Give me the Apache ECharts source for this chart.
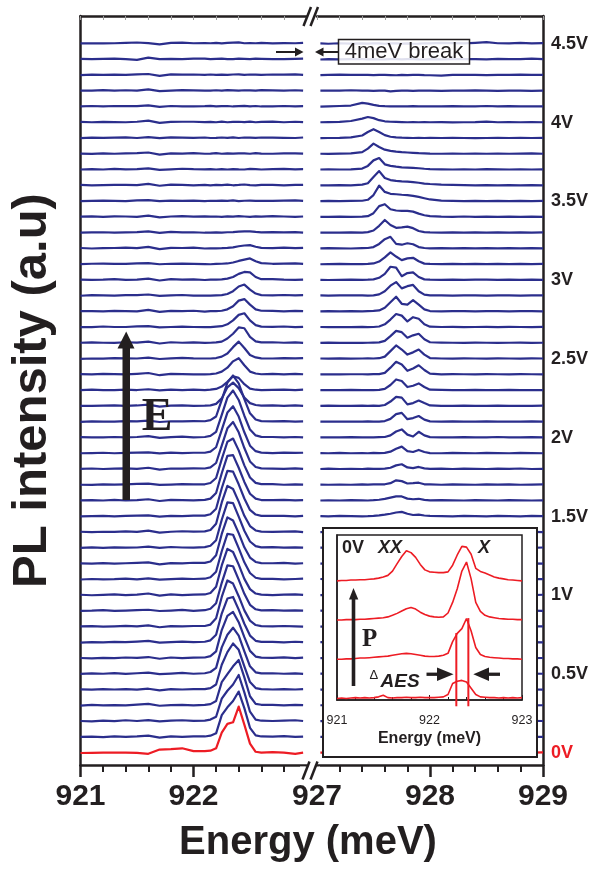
<!DOCTYPE html>
<html>
<head>
<meta charset="utf-8">
<script src="https://cdn.jsdelivr.net/npm/echarts@6/dist/echarts.min.js"></script>
<style>html,body{margin:0;padding:0;background:#fff}#c{width:607px;height:869px}</style>
</head>
<body>
<div id="c"></div>
<script>
// ---------- DATA ----------
const voltages = [0,0.1,0.2,0.3,0.4,0.5,0.6,0.7,0.8,0.9,1,1.1,1.2,1.3,1.4,1.5,1.6,1.7,1.8,1.9,2,2.1,2.2,2.3,2.4,2.5,2.6,2.7,2.8,2.9,3,3.1,3.2,3.3,3.4,3.5,3.6,3.7,3.8,3.9,4,4.1,4.2,4.3,4.4,4.5];
const energyLeft = [921.0,921.1,921.2,921.3,921.4,921.5,921.6,921.7,921.8,921.9,922.0,922.1,922.15,922.2,922.25,922.3,922.35,922.4,922.45,922.5,922.55,922.6,922.7,922.8,922.9,922.97];
const energyRight = [927.03,927.1,927.2,927.3,927.4,927.45,927.5,927.55,927.6,927.65,927.7,927.75,927.8,927.85,927.9,927.95,928.0,928.1,928.2,928.3,928.4,928.5,928.6,928.7,928.8,928.9,929.0];
const leftTicks = [921, 922];
const rightTicks = [927, 928, 929];

const leftSpectra = [
[0.00,0.01,0.02,0.02,0.03,0.01,-0.05,0.22,0.25,0.30,0.12,0.12,0.15,0.30,1.30,1.85,1.95,2.95,1.80,0.60,0.08,0.03,0.06,0.02,-0.05,0.02],
[0.02,0.04,0.01,0.06,0.03,0.05,0.10,-0.02,0.06,0.03,0.05,0.05,0.10,0.25,1.40,1.90,2.30,2.90,1.85,0.60,0.12,0.05,0.04,0.07,0.02,0.04],
[0.03,0.01,0.05,0.02,0.08,0.03,0.09,0.01,0.05,0.08,0.04,0.06,0.12,0.30,1.45,1.95,2.35,2.95,1.85,0.62,0.12,0.05,0.03,0.05,0.08,0.03],
[0.01,0.05,0.02,0.04,0.02,0.07,0.12,0.00,0.04,0.06,0.02,0.05,0.10,0.30,1.50,2.00,2.50,2.90,1.80,0.60,0.12,0.06,0.05,0.02,0.06,0.04],
[0.04,0.02,0.06,0.03,0.05,0.02,0.08,-0.03,0.05,0.03,0.06,0.05,0.12,0.35,1.60,2.40,2.95,2.55,1.50,0.50,0.12,0.05,0.03,0.06,0.03,0.05],
[0.02,0.05,0.03,0.07,0.02,0.06,0.10,0.01,0.04,0.08,0.03,0.06,0.14,0.40,1.70,2.50,2.95,2.45,1.45,0.50,0.12,0.05,0.06,0.03,0.05,0.02],
[0.03,0.01,0.04,0.02,0.06,0.04,0.09,-0.02,0.06,0.02,0.05,0.06,0.15,0.45,1.80,2.70,2.95,2.30,1.35,0.48,0.12,0.05,0.04,0.07,0.02,0.05],
[0.01,0.04,0.02,0.05,0.03,0.07,0.11,0.00,0.03,0.07,0.04,0.06,0.15,0.50,1.85,2.80,2.90,2.10,1.20,0.45,0.12,0.05,0.05,0.02,0.06,0.03],
[0.03,0.05,0.02,0.04,0.07,0.03,0.10,-0.02,0.05,0.03,0.06,0.06,0.15,0.55,1.90,2.95,2.75,1.95,1.05,0.40,0.12,0.05,0.03,0.06,0.04,0.02],
[0.02,0.03,0.06,0.02,0.04,0.06,0.09,0.01,0.04,0.08,0.02,0.06,0.15,0.50,1.80,2.90,2.85,2.00,1.10,0.40,0.12,0.05,0.06,0.03,0.05,0.04],
[0.04,0.01,0.03,0.06,0.02,0.05,0.12,-0.01,0.06,0.02,0.05,0.06,0.15,0.55,1.90,2.95,2.75,1.95,1.05,0.40,0.12,0.05,0.02,0.05,0.07,0.03],
[0.01,0.04,0.02,0.03,0.06,0.02,0.08,0.00,0.03,0.06,0.04,0.06,0.15,0.50,1.80,2.90,2.85,2.00,1.10,0.42,0.12,0.05,0.05,0.02,0.04,0.06],
[0.03,0.02,0.05,0.02,0.04,0.07,0.10,-0.03,0.05,0.03,0.07,0.06,0.15,0.55,1.90,2.95,2.75,1.95,1.05,0.40,0.12,0.05,0.04,0.06,0.02,0.04],
[0.02,0.05,0.01,0.05,0.03,0.04,0.09,0.01,0.07,0.04,0.03,0.06,0.15,0.50,1.80,2.90,2.85,2.00,1.10,0.42,0.13,0.05,0.06,0.03,0.05,0.03],
[0.04,0.02,0.04,0.03,0.06,0.03,0.11,-0.02,0.04,0.07,0.05,0.06,0.15,0.55,1.90,2.95,2.75,1.95,1.05,0.40,0.12,0.05,0.03,0.05,0.06,0.02],
[0.01,0.03,0.05,0.02,0.04,0.06,0.08,0.00,0.05,0.03,0.06,0.06,0.15,0.50,1.80,2.90,2.85,2.05,1.15,0.42,0.13,0.05,0.05,0.04,0.02,0.05],
[0.03,0.04,0.02,0.06,0.02,0.04,0.10,-0.01,0.06,0.05,0.03,0.06,0.14,0.50,1.75,2.85,2.90,2.10,1.20,0.45,0.14,0.05,0.04,0.06,0.03,0.04],
[0.02,0.01,0.04,0.03,0.05,0.07,0.09,0.01,0.03,0.06,0.04,0.05,0.13,0.45,1.65,2.75,2.95,2.20,1.25,0.48,0.14,0.06,0.06,0.02,0.05,0.03],
[0.03,0.05,0.02,0.04,0.06,0.03,0.10,-0.02,0.05,0.04,0.06,0.05,0.12,0.40,1.50,2.60,3.00,2.35,1.35,0.50,0.15,0.06,0.04,0.03,0.06,0.03],
[0.02,0.03,0.05,0.02,0.04,0.06,0.08,0.01,0.06,0.03,0.05,0.05,0.12,0.40,1.50,2.60,3.00,2.35,1.35,0.50,0.15,0.06,0.03,0.06,0.04,0.05],
[0.04,0.02,0.03,0.05,0.02,0.05,0.11,-0.01,0.04,0.07,0.03,0.05,0.12,0.38,1.45,2.55,3.00,2.40,1.40,0.52,0.15,0.06,0.05,0.03,0.05,0.02],
[0.01,0.04,0.03,0.03,0.06,0.04,0.09,0.00,0.05,0.04,0.06,0.05,0.12,0.35,1.40,2.50,2.95,2.45,1.45,0.55,0.16,0.06,0.04,0.06,0.03,0.04],
[0.03,0.02,0.04,0.06,0.03,0.05,0.10,-0.02,0.04,0.06,0.03,0.04,0.06,0.15,0.50,1.20,1.50,1.15,0.55,0.20,0.08,0.04,0.05,0.03,0.06,0.03],
[0.02,0.05,0.03,0.02,0.05,0.03,0.08,0.01,0.06,0.03,0.05,0.03,0.05,0.10,0.25,0.55,0.90,0.80,0.40,0.12,0.05,0.03,0.04,0.06,0.03,0.05],
[0.04,0.02,0.05,0.04,0.02,0.06,0.11,-0.03,0.05,0.04,0.02,0.02,0.04,0.08,0.20,0.45,0.85,1.05,0.60,0.20,0.08,0.03,0.05,0.02,0.06,0.03],
[0.01,0.03,0.02,0.05,0.04,0.03,0.09,0.00,0.04,0.07,0.04,0.03,0.03,0.06,0.15,0.35,0.75,1.10,0.70,0.25,0.10,0.04,0.03,0.05,0.04,0.06],
[0.03,0.05,0.03,0.02,0.06,0.04,0.10,-0.02,0.06,0.03,0.05,0.02,0.03,0.05,0.10,0.30,0.60,1.00,0.95,0.40,0.12,0.05,0.06,0.03,0.05,0.02],
[0.02,0.02,0.06,0.03,0.03,0.07,0.08,0.01,0.03,0.05,0.03,0.02,0.02,0.05,0.08,0.20,0.45,0.80,0.90,0.45,0.15,0.05,0.04,0.06,0.02,0.04],
[0.04,0.03,0.02,0.05,0.04,0.02,0.12,-0.01,0.05,0.04,0.06,0.01,0.03,0.04,0.06,0.15,0.35,0.70,0.80,0.45,0.15,0.06,0.05,0.02,0.05,0.03],
[0.01,0.05,0.04,0.02,0.05,0.05,0.09,0.00,0.04,0.06,0.02,0.02,0.02,0.04,0.05,0.12,0.30,0.60,0.72,0.40,0.15,0.05,0.03,0.06,0.04,0.05],
[0.03,0.02,0.03,0.06,0.02,0.04,0.10,-0.02,0.07,0.03,0.05,0.01,0.03,0.03,0.05,0.10,0.20,0.40,0.52,0.50,0.20,0.06,0.06,0.03,0.02,0.04],
[0.02,0.04,0.05,0.03,0.04,0.06,0.08,0.01,0.04,0.05,0.03,0.02,0.01,0.03,0.04,0.06,0.12,0.22,0.30,0.38,0.20,0.08,0.04,0.05,0.06,0.03],
[0.04,0.01,0.03,0.04,0.06,0.03,0.11,-0.03,0.05,0.04,0.06,0.01,0.02,0.02,0.03,0.05,0.08,0.15,0.20,0.22,0.12,0.05,0.03,0.06,0.03,0.05],
[0.02,0.03,0.04,0.02,0.03,0.05,0.09,0.00,0.06,0.03,0.04,0.01,0.02,0.03,0.02,0.04,0.05,0.08,0.10,0.10,0.06,0.03,0.05,0.03,0.05,0.02],
[0.03,0.05,0.02,0.05,0.04,0.02,0.10,-0.02,0.04,0.06,0.03,0.05,0.03,0.04,0.02,0.05,0.03,0.06,0.04,0.02,0.05,0.03,0.06,0.04,0.02,0.04],
[0.01,0.03,0.05,0.03,0.02,0.06,0.08,0.01,0.05,0.03,0.05,0.02,0.04,0.03,0.05,0.03,0.06,0.02,0.04,0.05,0.03,0.04,0.03,0.05,0.06,0.03],
[0.04,0.02,0.03,0.04,0.05,0.03,0.11,-0.01,0.06,0.04,0.02,0.04,0.02,0.05,0.03,0.06,0.02,0.04,0.07,0.03,0.02,0.05,0.04,0.02,0.04,0.05],
[0.02,0.04,0.02,0.06,0.03,0.05,0.09,0.00,0.03,0.07,0.04,0.03,0.05,0.02,0.04,0.02,0.05,0.03,0.02,0.06,0.04,0.02,0.05,0.06,0.03,0.04],
[0.03,0.01,0.05,0.02,0.04,0.06,0.10,-0.03,0.05,0.03,0.06,0.02,0.03,0.06,0.02,0.04,0.03,0.05,0.04,0.02,0.06,0.03,0.02,0.04,0.05,0.03],
[0.01,0.04,0.03,0.04,0.06,0.02,0.08,0.01,0.06,0.04,0.03,0.05,0.02,0.03,0.05,0.03,0.06,0.02,0.05,0.04,0.03,0.05,0.04,0.03,0.02,0.05],
[0.04,0.02,0.04,0.03,0.02,0.05,0.12,-0.02,0.04,0.05,0.05,0.03,0.04,0.02,0.06,0.02,0.04,0.05,0.03,0.06,0.02,0.04,0.06,0.02,0.05,0.03],
[0.02,0.05,0.02,0.05,0.04,0.04,0.09,0.00,0.05,0.03,0.02,0.04,0.06,0.03,0.04,0.05,0.02,0.04,0.06,0.03,0.05,0.02,0.03,0.05,0.03,0.04],
[0.03,0.03,0.06,0.02,0.05,0.03,0.10,-0.01,0.03,0.06,0.04,0.02,0.03,0.05,0.03,0.06,0.04,0.02,0.05,0.04,0.03,0.06,0.04,0.03,0.05,0.02],
[0.01,0.04,0.03,0.04,0.03,0.06,0.08,-0.04,0.06,0.04,0.05,0.03,0.05,0.02,0.04,0.03,0.05,0.06,0.02,0.05,0.04,0.03,0.05,0.04,0.06,0.03],
[0.04,0.02,0.04,0.06,0.02,-0.02,0.12,0.02,0.04,0.03,0.06,0.05,0.02,0.04,0.06,0.02,0.03,0.05,0.04,0.02,0.05,0.04,0.03,0.02,0.04,0.05],
[0.02,0.03,0.02,0.03,0.05,0.08,0.04,-0.04,0.06,0.07,0.03,0.04,0.03,0.05,0.02,0.05,0.07,0.09,0.03,0.04,0.03,0.05,0.02,0.04,0.03,0.05]
];

const rightSpectra = [
[0.02,0.03,0.01,0.03,0.02,0.03,0.02,0.04,0.05,0.06,0.08,0.10,0.07,0.05,0.06,0.04,0.03,0.02,0.03,0.02,0.04,0.02,0.03,0.05,0.02,0.03,0.04],
[0.03,0.02,0.04,0.02,0.03,0.02,0.04,0.05,0.06,0.08,0.10,0.11,0.08,0.06,0.07,0.04,0.03,0.04,0.02,0.03,0.02,0.04,0.03,0.02,0.04,0.03,0.02],
[0.02,0.04,0.02,0.03,0.02,0.04,0.03,0.04,0.06,0.09,0.12,0.12,0.08,0.07,0.08,0.05,0.03,0.02,0.04,0.03,0.03,0.02,0.04,0.03,0.02,0.04,0.03],
[0.03,0.02,0.03,0.04,0.02,0.03,0.04,0.05,0.07,0.10,0.13,0.12,0.09,0.07,0.08,0.05,0.04,0.03,0.02,0.04,0.02,0.03,0.02,0.04,0.03,0.02,0.03],
[0.02,0.03,0.02,0.02,0.04,0.03,0.03,0.05,0.07,0.10,0.14,0.13,0.09,0.08,0.09,0.05,0.03,0.04,0.03,0.02,0.04,0.03,0.03,0.02,0.04,0.03,0.02],
[0.04,0.02,0.03,0.03,0.02,0.04,0.04,0.06,0.08,0.11,0.15,0.14,0.10,0.08,0.10,0.06,0.04,0.02,0.03,0.04,0.02,0.03,0.04,0.02,0.03,0.04,0.03],
[0.02,0.03,0.04,0.02,0.03,0.03,0.05,0.06,0.08,0.12,0.16,0.15,0.10,0.09,0.10,0.06,0.03,0.04,0.02,0.03,0.03,0.04,0.02,0.03,0.04,0.02,0.03],
[0.03,0.02,0.02,0.03,0.04,0.02,0.04,0.06,0.09,0.13,0.18,0.16,0.11,0.09,0.11,0.06,0.04,0.03,0.03,0.02,0.04,0.02,0.03,0.04,0.02,0.03,0.02],
[0.02,0.04,0.03,0.02,0.03,0.04,0.05,0.07,0.09,0.14,0.19,0.18,0.11,0.10,0.12,0.07,0.04,0.02,0.04,0.03,0.02,0.03,0.04,0.03,0.02,0.04,0.03],
[0.03,0.02,0.03,0.04,0.02,0.03,0.05,0.07,0.10,0.15,0.20,0.19,0.12,0.10,0.12,0.07,0.03,0.04,0.02,0.04,0.03,0.02,0.03,0.02,0.04,0.03,0.02],
[0.02,0.03,0.02,0.03,0.04,0.03,0.04,0.08,0.10,0.16,0.22,0.20,0.12,0.11,0.13,0.07,0.04,0.03,0.03,0.02,0.04,0.03,0.02,0.04,0.03,0.02,0.04],
[0.04,0.02,0.04,0.02,0.03,0.04,0.05,0.08,0.11,0.17,0.23,0.21,0.13,0.11,0.13,0.08,0.04,0.02,0.04,0.03,0.02,0.04,0.03,0.02,0.03,0.04,0.03],
[0.02,0.03,0.03,0.04,0.02,0.03,0.05,0.08,0.12,0.18,0.25,0.22,0.13,0.12,0.14,0.08,0.03,0.04,0.02,0.04,0.03,0.02,0.04,0.03,0.02,0.03,0.02],
[0.03,0.02,0.02,0.03,0.04,0.02,0.06,0.09,0.12,0.19,0.26,0.24,0.14,0.12,0.15,0.08,0.04,0.03,0.03,0.02,0.04,0.03,0.02,0.04,0.03,0.02,0.04],
[0.02,0.04,0.03,0.02,0.03,0.04,0.05,0.09,0.13,0.20,0.27,0.25,0.14,0.13,0.15,0.09,0.04,0.02,0.04,0.03,0.02,0.04,0.03,0.02,0.04,0.03,0.02],
[0.03,0.02,0.04,0.03,0.02,0.03,0.05,0.08,0.12,0.18,0.26,0.30,0.18,0.10,0.12,0.07,0.04,0.03,0.02,0.04,0.03,0.02,0.04,0.03,0.02,0.04,0.03],
[0.02,0.03,0.02,0.04,0.03,0.02,0.04,0.07,0.12,0.20,0.28,0.28,0.14,0.10,0.13,0.06,0.03,0.04,0.03,0.02,0.04,0.03,0.02,0.04,0.03,0.02,0.03],
[0.03,0.02,0.03,0.02,0.04,0.03,0.04,0.05,0.05,0.12,0.30,0.25,0.10,0.12,0.15,0.05,0.04,0.02,0.04,0.03,0.02,0.04,0.03,0.05,0.02,0.03,0.04],
[0.02,0.04,0.02,0.03,0.02,0.04,0.03,0.03,0.04,0.10,0.25,0.32,0.12,0.08,0.15,0.06,0.03,0.04,0.02,0.04,0.03,0.02,0.04,0.03,0.05,0.02,0.03],
[0.03,0.02,0.04,0.02,0.03,0.02,0.04,0.03,0.04,0.12,0.30,0.44,0.15,0.10,0.23,0.10,0.03,0.02,0.04,0.03,0.02,0.04,0.03,0.02,0.04,0.03,0.02],
[0.02,0.03,0.02,0.04,0.03,0.03,0.02,0.04,0.05,0.15,0.40,0.53,0.20,0.08,0.38,0.15,0.04,0.03,0.02,0.04,0.03,0.02,0.05,0.03,0.02,0.04,0.03],
[0.03,0.02,0.03,0.03,0.02,0.04,0.03,0.03,0.06,0.20,0.50,0.58,0.18,0.25,0.38,0.15,0.04,0.02,0.04,0.03,0.02,0.04,0.03,0.02,0.03,0.04,0.02],
[0.02,0.04,0.02,0.02,0.04,0.02,0.04,0.03,0.08,0.30,0.60,0.55,0.12,0.20,0.36,0.20,0.05,0.03,0.02,0.04,0.03,0.02,0.04,0.03,0.02,0.03,0.04],
[0.03,0.02,0.03,0.04,0.02,0.03,0.03,0.04,0.10,0.35,0.70,0.60,0.22,0.30,0.45,0.22,0.05,0.04,0.03,0.02,0.04,0.03,0.02,0.04,0.03,0.02,0.03],
[0.02,0.03,0.02,0.03,0.03,0.02,0.04,0.04,0.12,0.45,0.82,0.65,0.25,0.40,0.60,0.30,0.07,0.02,0.04,0.03,0.02,0.04,0.03,0.02,0.04,0.03,0.02],
[0.03,0.02,0.04,0.02,0.03,0.04,0.03,0.05,0.15,0.50,0.86,0.60,0.28,0.42,0.60,0.28,0.06,0.03,0.02,0.04,0.03,0.02,0.04,0.03,0.02,0.04,0.03],
[0.02,0.04,0.02,0.03,0.02,0.03,0.04,0.05,0.15,0.45,0.78,0.70,0.35,0.50,0.60,0.25,0.06,0.04,0.03,0.02,0.04,0.03,0.02,0.03,0.04,0.02,0.03],
[0.03,0.02,0.03,0.02,0.04,0.02,0.03,0.06,0.20,0.50,0.85,0.75,0.38,0.65,0.55,0.20,0.05,0.03,0.04,0.02,0.03,0.04,0.02,0.04,0.03,0.02,0.04],
[0.02,0.03,0.02,0.04,0.02,0.04,0.05,0.08,0.25,0.60,0.95,0.50,0.45,0.74,0.45,0.15,0.04,0.02,0.03,0.04,0.02,0.03,0.04,0.02,0.03,0.04,0.02],
[0.03,0.02,0.04,0.03,0.03,0.02,0.04,0.10,0.30,0.65,0.88,0.48,0.62,0.70,0.30,0.08,0.03,0.04,0.02,0.03,0.04,0.02,0.03,0.04,0.02,0.03,0.03],
[0.02,0.01,0.02,0.03,0.02,0.03,0.05,0.15,0.40,0.85,0.80,0.25,0.45,0.50,0.20,0.05,0.03,0.02,0.04,0.02,0.03,0.04,0.02,0.03,0.02,0.04,0.02],
[0.01,0.02,0.03,0.02,0.02,0.03,0.06,0.18,0.45,0.76,0.50,0.27,0.38,0.42,0.20,0.05,0.03,0.02,0.03,0.02,0.03,0.02,0.03,0.02,0.03,0.02,0.03],
[0.02,0.03,0.02,0.01,0.03,0.04,0.10,0.30,0.60,0.75,0.30,0.25,0.34,0.28,0.10,0.04,0.02,0.03,0.02,0.03,0.02,0.03,0.02,0.03,0.02,0.03,0.02],
[0.02,0.01,0.02,0.03,0.02,0.05,0.15,0.45,0.82,0.50,0.32,0.35,0.40,0.30,0.12,0.05,0.03,0.02,0.03,0.02,0.03,0.02,0.03,0.02,0.03,0.02,0.03],
[0.01,0.02,0.03,0.02,0.03,0.06,0.25,0.70,0.82,0.50,0.42,0.40,0.40,0.35,0.22,0.12,0.06,0.03,0.02,0.04,0.02,0.03,0.02,0.03,0.02,0.03,0.02],
[0.02,0.03,0.02,0.03,0.04,0.10,0.40,1.00,0.60,0.48,0.45,0.42,0.40,0.35,0.28,0.20,0.12,0.05,0.03,0.02,0.03,0.02,0.03,0.02,0.03,0.02,0.03],
[0.01,0.02,0.03,0.02,0.06,0.15,0.55,0.92,0.48,0.35,0.30,0.27,0.25,0.22,0.18,0.13,0.10,0.06,0.04,0.03,0.02,0.03,0.02,0.03,0.02,0.03,0.02],
[0.02,0.03,0.02,0.03,0.08,0.25,0.60,0.75,0.35,0.25,0.20,0.16,0.14,0.12,0.10,0.07,0.05,0.03,0.02,0.03,0.02,0.04,0.03,0.02,0.03,0.02,0.03],
[0.02,0.01,0.03,0.04,0.12,0.35,0.66,0.45,0.28,0.20,0.15,0.12,0.10,0.08,0.06,0.05,0.03,0.02,0.03,0.02,0.03,0.02,0.03,0.02,0.03,0.04,0.02],
[0.01,0.02,0.03,0.06,0.18,0.40,0.58,0.40,0.20,0.10,0.06,0.04,0.03,0.02,0.03,0.02,0.03,0.02,0.03,0.02,0.01,0.02,0.03,0.02,0.03,0.02,0.03],
[0.02,0.03,0.04,0.10,0.25,0.35,0.28,0.15,0.08,0.05,0.04,0.03,0.02,0.03,0.02,0.03,0.02,0.03,0.01,0.02,0.03,0.06,0.02,0.03,0.02,0.03,0.02],
[0.01,0.03,0.05,0.08,0.25,0.20,0.12,0.06,0.04,0.03,0.02,0.03,0.02,0.04,0.03,0.02,0.03,0.02,0.04,0.03,0.02,0.05,0.03,0.04,0.02,0.03,0.02],
[0.02,0.02,0.03,0.05,0.03,0.02,0.01,0.02,0.03,-0.02,0.01,0.02,0.03,0.01,0.02,0.02,0.03,0.01,0.02,0.03,0.04,0.02,0.01,0.03,0.02,0.01,0.02],
[0.01,0.03,0.04,0.02,0.03,0.02,0.01,0.03,0.02,0.01,0.00,0.02,0.01,0.02,0.03,0.01,0.00,-0.02,0.02,0.03,0.02,0.01,0.02,0.03,0.04,0.02,0.03],
[0.00,0.02,0.01,0.03,0.02,0.01,0.02,0.00,0.01,0.03,0.02,0.01,0.02,0.03,0.01,0.00,0.02,0.01,0.03,0.02,0.03,0.01,0.04,0.02,0.03,0.06,0.02],
[0.02,0.00,0.03,0.01,0.02,0.01,0.03,0.02,0.00,0.02,0.03,0.01,0.02,0.00,0.01,0.03,0.02,0.05,0.04,0.02,0.06,0.10,0.03,0.02,0.05,0.02,0.04]
];

// inset
const insetEnergy = [921.00,921.05,921.10,921.15,921.20,921.25,921.30,921.35,921.40,921.45,921.50,921.55,921.60,921.65,921.70,921.75,921.80,921.85,921.90,921.95,922.00,922.05,922.10,922.15,922.20,922.25,922.30,922.35,922.40,922.45,922.50,922.55,922.60,922.65,922.70,922.75,922.80,922.85,922.90,922.95,923.00];
const insetSpectra = [
[0.00,0.01,0.00,0.01,0.02,0.01,0.02,0.01,0.02,0.04,0.08,0.02,0.01,0.02,0.02,0.03,0.02,0.02,0.03,0.02,0.02,0.02,0.03,0.04,0.10,0.38,0.44,0.46,0.42,0.26,0.10,0.04,0.03,0.02,0.02,0.01,0.02,0.01,0.02,0.01,0.02],
[0.00,0.00,0.01,0.01,0.02,0.03,0.03,0.04,0.05,0.06,0.07,0.08,0.10,0.12,0.14,0.15,0.14,0.12,0.10,0.08,0.07,0.07,0.08,0.10,0.15,0.45,0.66,0.78,1.04,0.72,0.30,0.12,0.07,0.05,0.04,0.03,0.02,0.02,0.01,0.01,0.00],
[0.00,0.00,0.01,0.01,0.01,0.02,0.02,0.03,0.04,0.05,0.06,0.08,0.12,0.17,0.23,0.29,0.32,0.28,0.20,0.14,0.10,0.08,0.07,0.08,0.18,0.45,0.80,1.25,1.48,1.05,0.45,0.22,0.12,0.08,0.06,0.04,0.03,0.02,0.02,0.01,0.01],
[0.00,0.01,0.01,0.02,0.02,0.03,0.03,0.04,0.05,0.07,0.10,0.14,0.25,0.44,0.62,0.77,0.72,0.60,0.42,0.28,0.23,0.22,0.21,0.21,0.23,0.40,0.66,0.88,0.86,0.68,0.32,0.24,0.20,0.15,0.10,0.07,0.05,0.03,0.02,0.01,0.00]
];
const insetTicks = [921, 922, 923];
const aesEnergy = [922.29, 922.42];
const aesTop = [1.67, 2.05];
const aesBottom = -0.2;

// ---------- CHART ----------
const FONT = '"Liberation Sans", Arial, Helvetica, sans-serif';
const SERIF = '"Liberation Serif", "Times New Roman", serif';
const INK = '#231f20', BLUE = '#2b2e8c', RED = '#ed1c24';
const Y_MIN = -0.76, Y_MAX = 46.76;

const chart = echarts.init(document.getElementById('c'), null, {renderer: 'canvas'});

function mainBottomAxis(gridIndex, min, max, showMin, showMax) {
  return {
    gridIndex, type: 'value', position: 'bottom', min, max, interval: 1,
    axisLine: {show: true, onZero: false, lineStyle: {color: INK, width: 2.5}},
    axisTick: {show: true, inside: false, length: 12, lineStyle: {color: INK, width: 2.5}},
    minorTick: {show: true, splitNumber: 5, length: 7, lineStyle: {color: INK, width: 2}},
    axisLabel: {show: true, margin: 17, fontSize: 30, fontWeight: 'bold', color: INK, fontFamily: FONT,
      showMinLabel: showMin, showMaxLabel: showMax},
    splitLine: {show: false}, minorSplitLine: {show: false}
  };
}
function mainTopAxis(gridIndex, min, max) {
  return {
    gridIndex, type: 'value', position: 'top', min, max, interval: 0.2,
    axisLine: {show: true, onZero: false, lineStyle: {color: INK, width: 2.5}},
    axisTick: {show: true, inside: true, length: 4, lineStyle: {color: '#9a9a9a', width: 1}},
    axisLabel: {show: false}, splitLine: {show: false}
  };
}

const series = [];
leftSpectra.forEach((vals, i) => {
  series.push({
    type: 'line', xAxisIndex: 0, yAxisIndex: 0, silent: true,
    symbol: 'none', showSymbol: false, z: i === 0 ? 3 : 2,
    lineStyle: {width: 2.2, color: i === 0 ? RED : BLUE, join: 'round'},
    itemStyle: {color: i === 0 ? RED : BLUE},
    data: energyLeft.map((e, j) => [e, i + vals[j]])
  });
});
rightSpectra.forEach((vals, i) => {
  series.push({
    type: 'line', xAxisIndex: 2, yAxisIndex: 1, silent: true,
    symbol: 'none', showSymbol: false, z: i === 0 ? 3 : 2,
    lineStyle: {width: 2.2, color: i === 0 ? RED : BLUE, join: 'round'},
    itemStyle: {color: i === 0 ? RED : BLUE},
    data: energyRight.map((e, j) => [e, i + vals[j]])
  });
});
insetSpectra.forEach((vals, i) => {
  series.push({
    type: 'line', xAxisIndex: 4, yAxisIndex: 2, silent: true,
    symbol: 'none', showSymbol: false, z: 13,
    lineStyle: {width: 1.6, color: RED},
    data: insetEnergy.map((e, j) => [e, i + vals[j]])
  });
});
aesEnergy.forEach((e, k) => {
  series.push({
    type: 'line', xAxisIndex: 4, yAxisIndex: 2, silent: true, clip: false,
    symbol: 'none', showSymbol: false, z: 13,
    lineStyle: {width: 2, color: RED},
    data: [[e, aesBottom], [e, aesTop[k]]]
  });
});

const labelIdx = voltages.map((v, i) => i).filter(i => i % 5 === 0);

const G = [];
// break marks
G.push({type: 'rect', z: 20, shape: {x: 300, y: 766.5, width: 20, height: 15}, style: {fill: '#fff'}});
G.push({type: 'line', z: 21, shape: {x1: 302.5, y1: 779.5, x2: 309.5, y2: 761.5}, style: {stroke: INK, lineWidth: 2.5}});
G.push({type: 'line', z: 21, shape: {x1: 310.5, y1: 779.5, x2: 317.5, y2: 761.5}, style: {stroke: INK, lineWidth: 2.5}});
G.push({type: 'line', z: 21, shape: {x1: 303.5, y1: 26, x2: 311, y2: 7}, style: {stroke: INK, lineWidth: 2.5}});
G.push({type: 'line', z: 21, shape: {x1: 310.5, y1: 26, x2: 318, y2: 7}, style: {stroke: INK, lineWidth: 2.5}});
// 4meV break box and arrows
G.push({type: 'rect', z: 10, shape: {x: 338.5, y: 39.5, width: 131, height: 24.5}, style: {fill: 'rgba(255,255,255,0.85)', stroke: INK, lineWidth: 1.5}});
G.push({type: 'text', z: 11, x: 404, y: 52, style: {text: '4meV break', font: '22px ' + FONT, fill: INK, align: 'center', verticalAlign: 'middle'}});
G.push({type: 'line', z: 11, shape: {x1: 276, y1: 52, x2: 297, y2: 52}, style: {stroke: INK, lineWidth: 2}});
G.push({type: 'polygon', z: 11, shape: {points: [[295, 47.5], [295, 56.5], [303.5, 52]]}, style: {fill: INK}});
G.push({type: 'line', z: 11, shape: {x1: 322, y1: 52, x2: 338, y2: 52}, style: {stroke: INK, lineWidth: 2}});
G.push({type: 'polygon', z: 11, shape: {points: [[323.5, 47.5], [323.5, 56.5], [315, 52]]}, style: {fill: INK}});
// E arrow
G.push({type: 'rect', z: 10, shape: {x: 122.5, y: 346, width: 7.5, height: 154}, style: {fill: INK}});
G.push({type: 'polygon', z: 10, shape: {points: [[117.5, 348.5], [134.5, 348.5], [126.2, 331.5]]}, style: {fill: INK}});
G.push({type: 'text', z: 10, x: 157, y: 418, style: {text: 'E', font: 'bold 46px ' + SERIF, fill: INK, align: 'center', verticalAlign: 'middle'}});
// x axis title
G.push({type: 'text', z: 10, x: 308, y: 843, style: {text: 'Energy (meV)', font: 'bold 40px ' + FONT, fill: INK, align: 'center', verticalAlign: 'middle'}});
// inset box
G.push({type: 'rect', z: 10, shape: {x: 323, y: 528, width: 214, height: 229}, style: {fill: '#fff', stroke: INK, lineWidth: 2}});
// inset annotations
G.push({type: 'text', z: 15, x: 342, y: 548.5, style: {text: '0V', font: 'bold 18px ' + FONT, fill: INK, align: 'left', verticalAlign: 'middle'}});
G.push({type: 'text', z: 15, x: 378, y: 548.5, style: {text: 'XX', font: 'italic bold 18px ' + FONT, fill: INK, align: 'left', verticalAlign: 'middle'}});
G.push({type: 'text', z: 15, x: 478, y: 548.5, style: {text: 'X', font: 'italic bold 18px ' + FONT, fill: INK, align: 'left', verticalAlign: 'middle'}});
G.push({type: 'rect', z: 15, shape: {x: 351.7, y: 597, width: 3.6, height: 89}, style: {fill: INK}});
G.push({type: 'polygon', z: 15, shape: {points: [[349, 599.5], [358.3, 599.5], [353.5, 588]]}, style: {fill: INK}});
G.push({type: 'text', z: 15, x: 362, y: 640, style: {text: 'P', font: 'bold 25px ' + SERIF, fill: INK, align: 'left', verticalAlign: 'middle'}});
G.push({type: 'text', z: 15, x: 369.5, y: 675, style: {text: 'Δ', font: '13px ' + FONT, fill: INK, align: 'left', verticalAlign: 'middle'}});
G.push({type: 'text', z: 15, x: 380.5, y: 682, style: {text: 'AES', font: 'italic bold 19px ' + FONT, fill: INK, align: 'left', verticalAlign: 'middle'}});
G.push({type: 'rect', z: 15, shape: {x: 426.5, y: 672.6, width: 12, height: 3.3}, style: {fill: INK}});
G.push({type: 'polygon', z: 15, shape: {points: [[437, 667.5], [437, 681], [453.5, 674.3]]}, style: {fill: INK}});
G.push({type: 'rect', z: 15, shape: {x: 487.5, y: 672.6, width: 12.5, height: 3.3}, style: {fill: INK}});
G.push({type: 'polygon', z: 15, shape: {points: [[489, 667.5], [489, 681], [473.3, 674.3]]}, style: {fill: INK}});

const option = {
  animation: false,
  backgroundColor: '#fff',
  grid: [
    {left: 80.5, top: 16, width: 226, height: 749, containLabel: false},
    {left: 317, top: 16, width: 226, height: 749, containLabel: false},
    {left: 337, top: 535, width: 185, height: 165, containLabel: false, show: true, z: 11,
     backgroundColor: '#fff', borderColor: INK, borderWidth: 1.5}
  ],
  xAxis: [
    mainBottomAxis(0, 921, 923, true, false),
    mainTopAxis(0, 921, 923),
    mainBottomAxis(1, 927, 929, true, true),
    mainTopAxis(1, 927, 929),
    {
      gridIndex: 2, type: 'value', position: 'bottom', min: 921, max: 923, interval: 1, z: 12,
      axisLine: {show: true, onZero: false, lineStyle: {color: INK, width: 1.5}},
      axisTick: {show: true, inside: true, length: 5, lineStyle: {color: INK, width: 1}},
      minorTick: {show: true, splitNumber: 5, length: 3, lineStyle: {color: INK, width: 1}},
      axisLabel: {show: true, margin: 14, fontSize: 12.5, color: INK, fontFamily: FONT,
        formatter: v => insetTicks.includes(Math.round(v)) ? String(Math.round(v)) : ''},
      splitLine: {show: false},
      name: 'Energy (meV)', nameLocation: 'middle', nameGap: 31,
      nameTextStyle: {fontSize: 16, fontWeight: 'bold', color: INK, fontFamily: FONT}
    }
  ],
  yAxis: [
    {
      gridIndex: 0, type: 'value', position: 'left', min: Y_MIN, max: Y_MAX,
      axisLine: {show: true, onZero: false, lineStyle: {color: INK, width: 2.5}},
      axisTick: {show: false}, axisLabel: {show: false}, splitLine: {show: false},
      name: 'PL intensity (a.u)', nameLocation: 'middle', nameGap: 24,
      nameTextStyle: {fontSize: 49, fontWeight: 'bold', color: INK, fontFamily: FONT}
    },
    {
      gridIndex: 1, type: 'value', position: 'right', min: Y_MIN, max: Y_MAX,
      axisLine: {show: true, onZero: false, lineStyle: {color: INK, width: 2.5}},
      axisTick: {show: false}, splitLine: {show: false},
      axisLabel: {
        show: true, margin: 8, customValues: labelIdx,
        formatter: v => {
          const i = Math.round(v);
          const t = voltages[i] + 'V';
          return i === 0 ? '{r|' + t + '}' : '{k|' + t + '}';
        },
        rich: {
          r: {color: RED, fontSize: 18, fontWeight: 'bold', fontFamily: FONT},
          k: {color: INK, fontSize: 18, fontWeight: 'bold', fontFamily: FONT}
        }
      }
    },
    {
      gridIndex: 2, type: 'value', position: 'left', min: -0.04, max: 4.17, z: 12,
      axisLine: {show: true, onZero: false, lineStyle: {color: INK, width: 1.5}},
      axisTick: {show: false}, axisLabel: {show: false}, splitLine: {show: false}
    }
  ],
  graphic: {elements: G},
  series
};
chart.setOption(option);
</script>
</body>
</html>
